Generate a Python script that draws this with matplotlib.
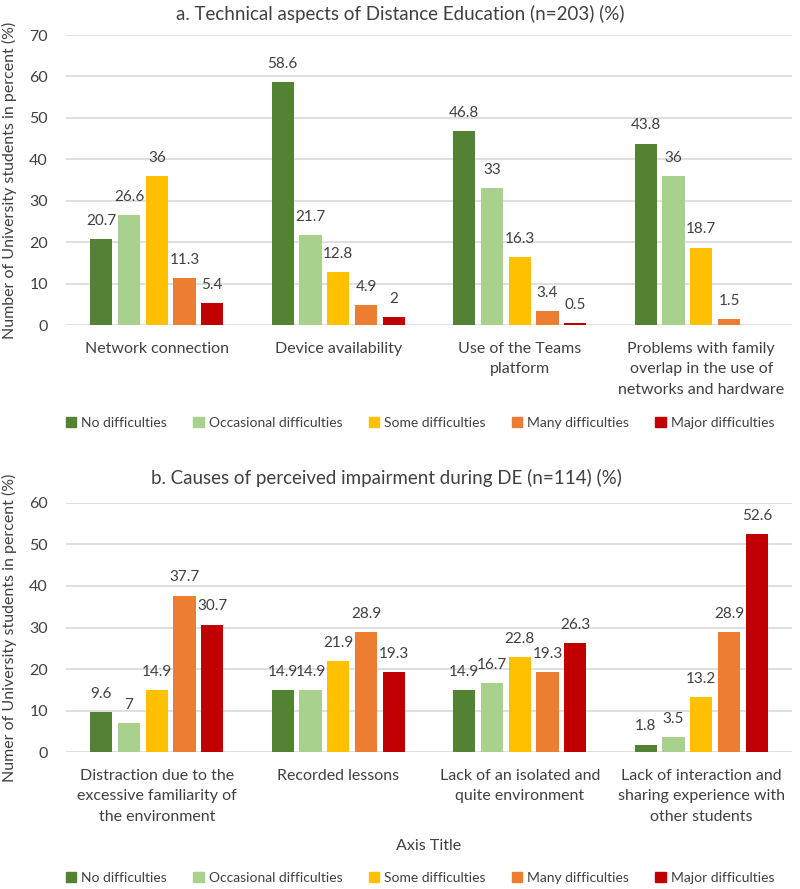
import numpy as np
import matplotlib
matplotlib.use("Agg")
import matplotlib.pyplot as plt
from matplotlib.patches import Patch

# =========================
# DATA
# =========================
series = ["No difficulties", "Occasional difficulties", "Some difficulties",
          "Many difficulties", "Major difficulties"]
colors = ["#548235", "#A9D18E", "#FFC000", "#ED7D31", "#C00000"]

cats_a = ["Network connection", "Device availability", "Use of the Teams\nplatform",
          "Problems with family\noverlap in the use of\nnetworks and hardware"]
no_a = [20.7, 58.6, 46.8, 43.8]
occ_a = [26.6, 21.7, 33, 36]
some_a = [36, 12.8, 16.3, 18.7]
many_a = [11.3, 4.9, 3.4, 1.5]
major_a = [5.4, 2, 0.5, np.nan]

cats_b = ["Distraction due to the\nexcessive familiarity of\nthe environment",
          "Recorded lessons", "Lack of an isolated and\nquite environment",
          "Lack of interaction and\nsharing experience with\nother students"]
no_b = [9.6, 14.9, 14.9, 1.8]
occ_b = [7, 14.9, 16.7, 3.5]
some_b = [14.9, 21.9, 22.8, 13.2]
many_b = [37.7, 28.9, 19.3, 28.9]
major_b = [30.7, 19.3, 26.3, 52.6]

plt.rcParams['font.family'] = ['Lato', 'DejaVu Sans']
TXT = "#404040"
GRID = "#D9D9D9"
H = 889.0

fig = plt.figure(figsize=(8, 8.89), dpi=100)
ax_a = fig.add_axes([0.0825, 0.6344, 0.9075, 0.3262])
ax_b = fig.add_axes([0.0825, 0.1541, 0.9075, 0.2801])

pitch = 0.153
width = 0.123


def draw_panel(ax, cats, values, ymax, ylabel):
    x = np.arange(len(cats))
    for i, (vals, col) in enumerate(zip(values, colors)):
        pos = x + (i - 2) * pitch
        v = np.array(vals, dtype=float)
        ax.bar(pos, np.nan_to_num(v), width=width, color=col, zorder=3)
        for p, val in zip(pos, v):
            if np.isnan(val):
                continue
            ax.annotate(f"{val:g}", (p, val), xytext=(0, 8), textcoords="offset points",
                        ha="center", va="bottom", fontsize=11, color=TXT)
    ax.set_xlim(-0.5, len(cats) - 0.5)
    ax.set_ylim(0, ymax)
    ax.set_yticks(np.arange(0, ymax + 1, 10))
    ax.yaxis.grid(True, color=GRID, lw=1.2, zorder=0)
    ax.set_xticks(x)
    ax.set_xticklabels(cats, fontsize=11.5, color=TXT, linespacing=1.6)
    ax.tick_params(axis="x", length=0, pad=12)
    ax.tick_params(axis="y", length=0, labelsize=11.5, labelcolor=TXT, pad=13)
    for s in ax.spines.values():
        s.set_visible(False)
    ax.set_ylabel(ylabel, fontsize=11.5, color=TXT, labelpad=9)


draw_panel(ax_a, cats_a, [no_a, occ_a, some_a, many_a, major_a], 70,
           "Number of University students in percent (%)")
draw_panel(ax_b, cats_b, [no_b, occ_b, some_b, many_b, major_b], 60,
           "Numer of University students in percent (%)")
ax_b.set_xlabel("Axis Title", fontsize=11.5, color=TXT, labelpad=11)

fig.text(400 / 800, 1 - 14 / H, "a. Technical aspects of Distance Education (n=203) (%)",
         ha="center", va="center", fontsize=13.5, color=TXT)
fig.text(386 / 800, 1 - 478 / H, "b. Causes of perceived impairment during DE (n=114) (%)",
         ha="center", va="center", fontsize=13.5, color=TXT)

handles = [Patch(color=c, label=s) for c, s in zip(colors, series)]
for ycen in [423, 878]:
    fig.legend(handles=handles, loc="center", bbox_to_anchor=(0.525, 1 - ycen / H),
               ncol=5, frameon=False, fontsize=10, labelcolor=TXT,
               handlelength=0.75, handleheight=0.75, handletextpad=0.35, columnspacing=1.9)

fig.savefig("out.png", dpi=100)
